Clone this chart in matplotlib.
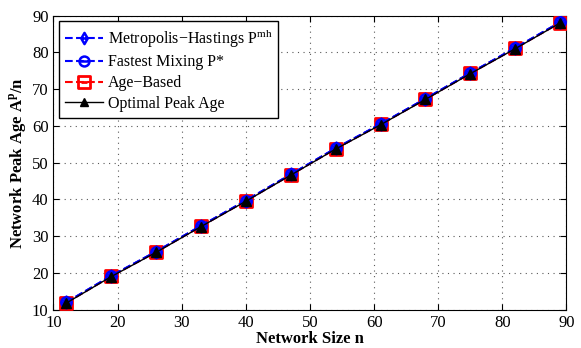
import matplotlib
matplotlib.use("Agg")
import matplotlib.pyplot as plt
from matplotlib.path import Path
import numpy as np

plt.rcParams["font.family"] = "Liberation Serif"
plt.rcParams["mathtext.fontset"] = "custom"
plt.rcParams["mathtext.rm"] = "Liberation Serif"
plt.rcParams["mathtext.bf"] = "Liberation Serif:bold"

# data
n_sizes = [12, 19, 26, 33, 40, 47, 54, 61, 68, 75, 82, 89]
mh_age = [12.0, 19.2, 25.8, 32.8, 39.7, 46.8, 53.9, 60.5, 67.4, 74.4, 81.2, 88.2]
fm_age = [12.0, 19.2, 25.8, 32.8, 39.7, 46.8, 53.9, 60.5, 67.4, 74.4, 81.2, 88.2]
age_based = [11.9, 19.1, 25.7, 32.7, 39.6, 46.7, 53.8, 60.4, 67.3, 74.3, 81.1, 88.1]
optimal = [11.8, 19.0, 25.6, 32.6, 39.5, 46.6, 53.7, 60.3, 67.2, 74.2, 81.0, 88.0]

# markers with a horizontal bar through them
diamond = Path([(0, 1.3), (0.75, 0), (0, -1.3), (-0.75, 0), (0, 1.3)],
               [Path.MOVETO, Path.LINETO, Path.LINETO, Path.LINETO, Path.CLOSEPOLY])
diamond_bar = Path.make_compound_path(diamond, Path([(-0.45, 0), (0.45, 0)], [Path.MOVETO, Path.LINETO]))
circle_bar = Path.make_compound_path(Path.unit_circle(), Path([(-0.7, 0), (0.7, 0)], [Path.MOVETO, Path.LINETO]))
square = Path([(-1, -1), (1, -1), (1, 1), (-1, 1), (-1, -1)],
              [Path.MOVETO, Path.LINETO, Path.LINETO, Path.LINETO, Path.CLOSEPOLY])
square_bar = Path.make_compound_path(square, Path([(-0.6, 0), (0.6, 0)], [Path.MOVETO, Path.LINETO]))

fig, ax = plt.subplots(figsize=(5.81, 3.48), dpi=100)
fig.subplots_adjust(left=0.092, right=0.975, top=0.955, bottom=0.11)

ax.plot(n_sizes, age_based, "r--", marker=square_bar, markersize=8.5, mfc="none",
        mew=2.0, lw=1.5, label="Age\u2212Based", zorder=3)
ax.plot(n_sizes, mh_age, "b--", marker=diamond_bar, markersize=8.5, mfc="none",
        mew=1.8, lw=1.5, label="Metropolis\u2212Hastings P$^{\\rm mh}$", zorder=4)
ax.plot(n_sizes, fm_age, "b--", marker=circle_bar, markersize=7.5, mfc="none",
        mew=1.8, lw=1.5, label="Fastest Mixing P*", zorder=5)
ax.plot(n_sizes, optimal, "k-", marker="^", markersize=6.5, lw=1.0,
        label="Optimal Peak Age", zorder=6)

ax.set_xlim(10, 90)
ax.set_ylim(10, 90)
ax.set_xticks(np.arange(10, 91, 10))
ax.set_yticks(np.arange(10, 91, 10))
ax.grid(True, linestyle=(0, (1, 4)), color="0.35", linewidth=0.8)
ax.tick_params(direction="in", top=True, right=True, labelsize=12, length=4)
ax.set_xlabel("Network Size n", fontsize=12, fontweight="bold", labelpad=0)
ax.set_ylabel("Network Peak Age A$^{\\mathbf{p}}$/n", fontsize=12, fontweight="bold", labelpad=2)

handles, labels = ax.get_legend_handles_labels()
order = [1, 2, 0, 3]
leg = ax.legend([handles[i] for i in order], [labels[i] for i in order],
                loc="upper left", fontsize=11.5, fancybox=False, framealpha=1,
                edgecolor="black", handlelength=2.4, borderaxespad=0.35,
                labelspacing=0.3, handletextpad=0.3, markerscale=0.95,
                borderpad=0.35)
leg.get_frame().set_linewidth(1.0)

fig.savefig("out.png", dpi=100)
